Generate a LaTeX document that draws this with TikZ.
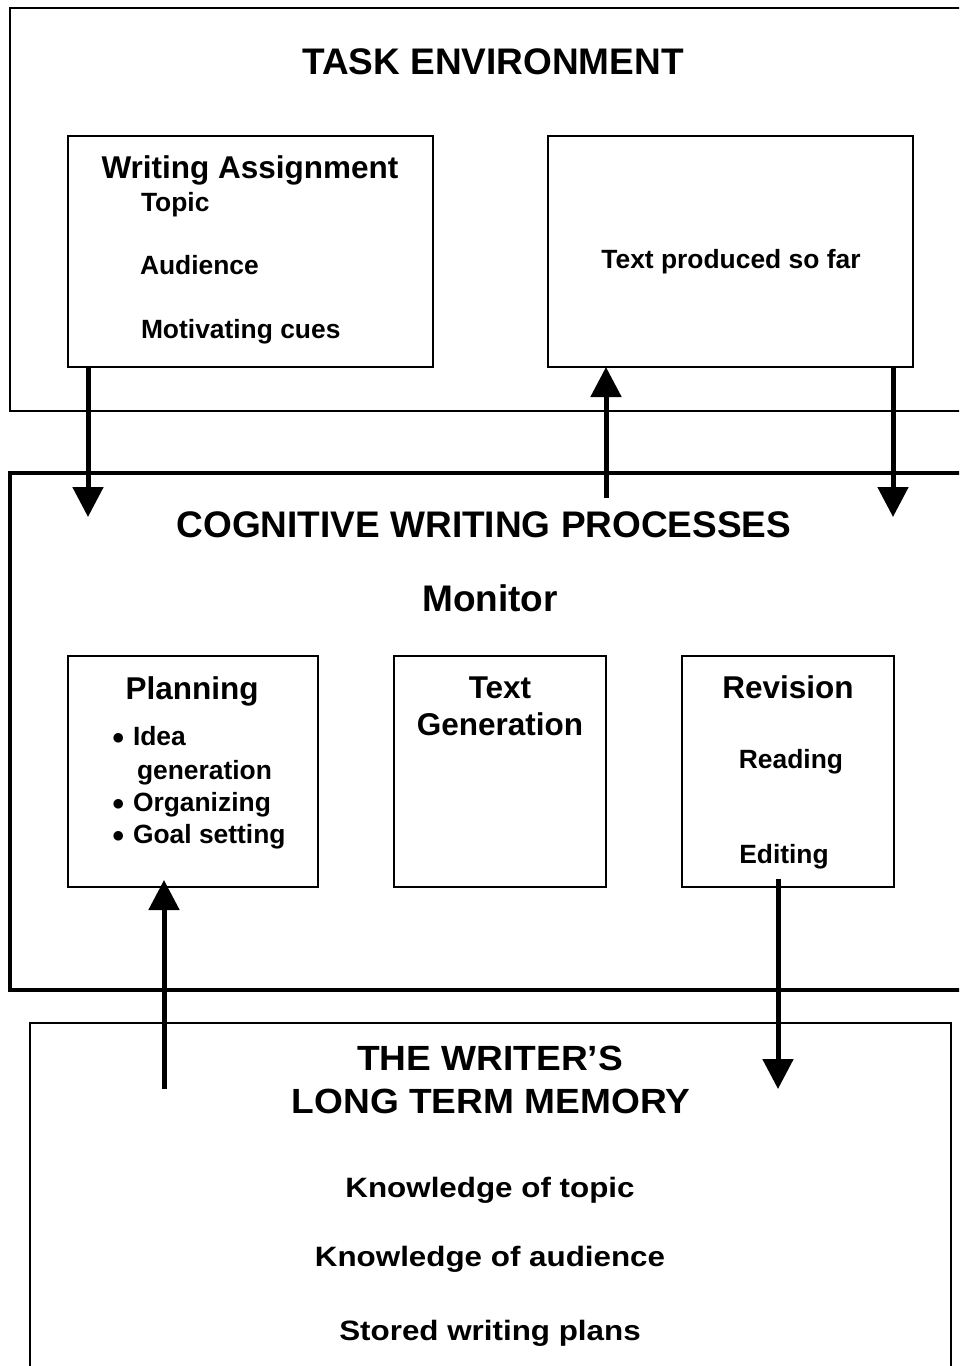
\documentclass[tikz,border=0pt]{standalone}
\usepackage{fontspec}
\setmainfont{Liberation Sans}
\newfontfamily\widesans[FakeStretch=1.06]{Liberation Sans}
\newfontfamily\widersans[FakeStretch=1.12]{Liberation Sans}
\usetikzlibrary{arrows.meta}
\tikzset{
every node/.style=
    {inner sep=0pt,
    outer sep=0pt,
    anchor=base
    },
box/.style=
    {draw,
    line width=1.8pt,
    anchor=north west
    },
bigtitle/.style={font=\fontsize{37}{44}\selectfont\bfseries},
heading/.style={font=\fontsize{31.5}{38}\selectfont\bfseries},
item/.style={font=\fontsize{26.4}{32}\selectfont\bfseries},
memtitle/.style={font=\fontsize{35}{42}\selectfont\widesans\bfseries},
memitem/.style={font=\fontsize{28}{34}\selectfont\widersans\bfseries},
flow/.style=
    {line width=5pt,
    -{Triangle[length=30pt,width=30pt]}
    }}
\newcommand{\dotitem}{\makebox[21pt][l]{\raisebox{1pt}{$\bullet$}}}

\begin{document}
\begin{tikzpicture}[x=1pt,y=-1pt]
\useasboundingbox (0,0) rectangle (959,1366);
\clip (0,0) rectangle (959,1366);

% task environment
\node[box,line width=1.6pt,minimum width=965,minimum height=403] (taskenv) at (10,8) {};
\node[bigtitle] (taskenvtitle) at (493,74) {TASK ENVIRONMENT};
\node[box,minimum width=365,minimum height=231] (assign) at (68,136) {};
\node[heading] (assigntitle) at (250,178) {Writing Assignment};
\node[item,anchor=base west] (topic) at (141,211) {Topic};
\node[item,anchor=base west] (audience) at (140,274) {Audience};
\node[item,anchor=base west] (cues) at (141,338) {Motivating cues};
\node[box,minimum width=365,minimum height=231] (sofar) at (548,136) {};
\node[item] (sofartext) at (731,268) {Text produced so far};

% cognitive writing processes
\node[box,line width=3.5pt,minimum width=965,minimum height=517] (cogproc) at (10,473) {};
\node[bigtitle] (cogtitle) at (484,537) {COGNITIVE WRITING PROCESSES};
\node[bigtitle] (monitor) at (490,611) {Monitor};
\node[box,minimum width=250,minimum height=231] (planning) at (68,656) {};
\node[heading] (planningtitle) at (192,699) {Planning};
\node[item,anchor=base west] (idea) at (112,745) {\dotitem Idea};
\node[item,anchor=base west] (ideagen) at (137,779) {generation};
\node[item,anchor=base west] (organizing) at (112,811) {\dotitem Organizing};
\node[item,anchor=base west] (goals) at (112,843) {\dotitem Goal setting};
\node[box,minimum width=212,minimum height=231] (textgen) at (394,656) {};
\node[heading] (textgentitle) at (500,698) {Text};
\node[heading] (textgentitleb) at (500,735) {Generation};
\node[box,minimum width=212,minimum height=231] (revision) at (682,656) {};
\node[heading] (revisiontitle) at (788,698) {Revision};
\node[item] (reading) at (791,768) {Reading};
\node[item] (editing) at (784,863) {Editing};

% long term memory
\node[box,minimum width=921,minimum height=380] (ltm) at (30,1023) {};
\node[memtitle] (ltmtitle) at (490,1070) {THE WRITER’S};
\node[memtitle] (ltmtitleb) at (491,1113) {LONG TERM MEMORY};
\node[memitem] (knowtopic) at (490,1197) {Knowledge of topic};
\node[memitem] (knowaudience) at (490,1266) {Knowledge of audience};
\node[memitem] (plans) at (490,1340) {Stored writing plans};

% arrows
\coordinate (assignout) at (88,517);
\coordinate (genout) at (606,498);
\coordinate (sofarout) at (893,517);
\coordinate (memout) at (164,1089);
\coordinate (memin) at (778,1089);
\draw[flow] (assign.south -| assignout) -- (assignout);
\draw[flow] (genout) -- (genout |- sofar.south);
\draw[flow] (sofar.south -| sofarout) -- (sofarout);
\draw[flow] (memout) -- ([yshift=7]planning.south -| memout);
\draw[flow] ([yshift=8]revision.south -| memin) -- (memin);

\end{tikzpicture}
\end{document}
